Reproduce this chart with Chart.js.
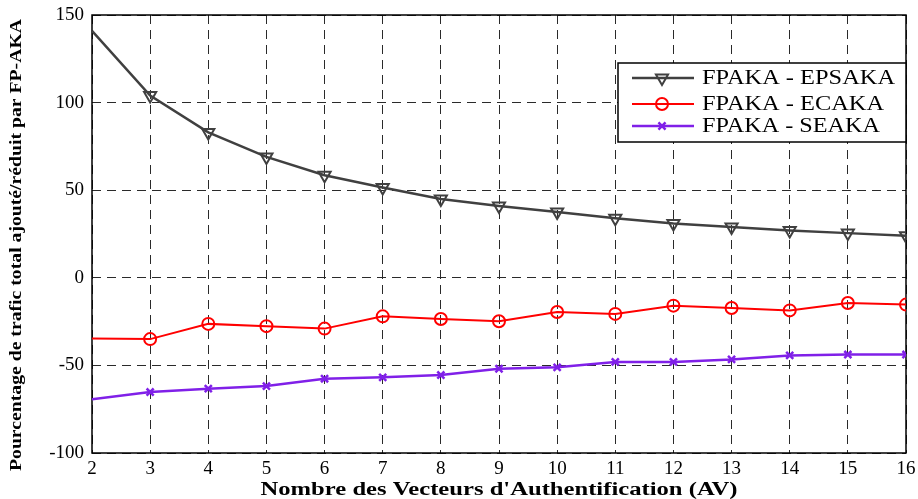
<!DOCTYPE html>
<html>
<head>
<meta charset="utf-8">
<script src="https://cdn.jsdelivr.net/npm/chart.js@4"></script>
<style>
  body { margin: 0; background: #fff; }
  canvas { display: block; }
</style>
</head>
<body>
<canvas id="chart" width="918" height="499"></canvas>
<script>
// Values
const avCounts = [2, 3, 4, 5, 6, 7, 8, 9, 10, 11, 12, 13, 14, 15, 16];
const yTicks = [-100, -50, 0, 50, 100, 150];
const epsaka = [141, 104, 83, 69, 58.5, 51.5, 45, 41, 37.5, 34, 31, 29, 27, 25.5, 24];
const ecaka = [-34.7, -35, -26.3, -27.6, -29, -22, -23.5, -24.8, -19.5, -20.6, -15.9, -17.2, -18.6, -14.4, -15.3];
const seaka = [-69.3, -65.2, -63.3, -61.8, -57.6, -56.8, -55.5, -51.9, -51.1, -48, -48, -46.6, -44.3, -43.8, -43.8];
const seriesLabels = ["FPAKA - EPSAKA", "FPAKA - ECAKA", "FPAKA - SEAKA"];
const xTitle = "Nombre des Vecteurs d'Authentification (AV)";
const yTitle = "Pourcentage de trafic total ajouté/réduit par FP-AKA";

const SERIF = "'Liberation Serif', 'Times New Roman', Tinos, serif";

function toPoints(values) {
    return values.map((v, i) => ({ x: avCounts[i], y: v }));
}

// no marker on the first point, like the original figure
function radii(r) {
    return avCounts.map((_, i) => (i === 0 ? 0 : r));
}

// draw text squeezed/stretched horizontally to a given width
function fitText(ctx, text, x, y, width, align) {
    const natural = ctx.measureText(text).width;
    ctx.save();
    ctx.translate(x, y);
    ctx.scale(width / natural, 1);
    ctx.textAlign = align || "center";
    ctx.fillText(text, 0, 0);
    ctx.restore();
}

const framePlugin = {
    id: "frame",
    beforeDatasetsDraw(chart) {
        const { ctx, chartArea: a } = chart;
        ctx.save();
        ctx.strokeStyle = "#000";
        ctx.lineWidth = 1.5;
        ctx.strokeRect(a.left, a.top, a.right - a.left, a.bottom - a.top);
        ctx.restore();
    },
    afterDraw(chart) {
        const { ctx, chartArea: a } = chart;
        ctx.save();
        ctx.fillStyle = "#000";
        ctx.font = "bold 18px " + SERIF;
        ctx.textBaseline = "alphabetic";
        fitText(ctx, xTitle, (a.left + a.right) / 2, 495, 477);

        ctx.save();
        ctx.translate(21, 245);
        ctx.rotate(-Math.PI / 2);
        ctx.font = "bold 16px " + SERIF;
        fitText(ctx, yTitle, 0, 0, 452);
        ctx.restore();
        ctx.restore();
    }
};

const legendPlugin = {
    id: "boxLegend",
    afterDraw(chart) {
        const { ctx } = chart;
        const box = { x: 618, y: 63, w: 288, h: 79 };
        const rows = [78, 104, 126];
        const textWidths = [193, 182, 178];
        ctx.save();
        ctx.fillStyle = "#fff";
        ctx.fillRect(box.x, box.y, box.w, box.h);
        ctx.strokeStyle = "#000";
        ctx.lineWidth = 1.5;
        ctx.strokeRect(box.x, box.y, box.w, box.h);

        chart.data.datasets.forEach((ds, i) => {
            const y = rows[i];
            ctx.strokeStyle = ds.borderColor;
            ctx.lineWidth = ds.borderWidth;
            ctx.beginPath();
            ctx.moveTo(632, y);
            ctx.lineTo(694, y);
            ctx.stroke();
            ctx.lineWidth = ds.pointBorderWidth;
            ctx.fillStyle = "rgba(0,0,0,0)";
            Chart.helpers.drawPoint(ctx, {
                pointStyle: ds.pointStyle,
                rotation: ds.pointRotation || 0,
                radius: ds.legendRadius,
                borderWidth: ds.pointBorderWidth
            }, 662, y);

            ctx.fillStyle = "#000";
            ctx.font = "20px " + SERIF;
            ctx.textBaseline = "middle";
            fitText(ctx, ds.label, 702, y + 1, textWidths[i], "left");
        });
        ctx.restore();
    }
};

new Chart(document.getElementById("chart"), {
    type: "line",
    data: {
        datasets: [
            {
                label: seriesLabels[0],
                data: toPoints(epsaka),
                borderColor: "#404040",
                borderWidth: 2.5,
                pointStyle: "triangle",
                pointRotation: 180,
                pointRadius: radii(7),
                legendRadius: 7,
                pointBorderWidth: 2,
                pointBorderColor: "#404040",
                pointBackgroundColor: "rgba(0,0,0,0)"
            },
            {
                label: seriesLabels[1],
                data: toPoints(ecaka),
                borderColor: "#ff0000",
                borderWidth: 2,
                pointStyle: "circle",
                pointRadius: radii(6),
                legendRadius: 6,
                pointBorderWidth: 2,
                pointBorderColor: "#ff0000",
                pointBackgroundColor: "rgba(0,0,0,0)"
            },
            {
                label: seriesLabels[2],
                data: toPoints(seaka),
                borderColor: "#8020e8",
                borderWidth: 2.5,
                pointStyle: "crossRot",
                pointRadius: radii(5),
                legendRadius: 5,
                pointBorderWidth: 2.5,
                pointBorderColor: "#8020e8",
                pointBackgroundColor: "rgba(0,0,0,0)"
            }
        ]
    },
    options: {
        responsive: false,
        animation: false,
        layout: { padding: { top: 15, right: 12, left: 0, bottom: 0 } },
        plugins: {
            legend: { display: false },
            tooltip: { enabled: false }
        },
        elements: { line: { tension: 0 } },
        scales: {
            x: {
                type: "linear",
                min: avCounts[0],
                max: avCounts[avCounts.length - 1],
                afterFit(scale) {
                    scale.height = 46;
                    scale.paddingLeft = 0;
                    scale.paddingRight = 0;
                },
                ticks: {
                    stepSize: 1,
                    color: "#000",
                    padding: 5,
                    font: { family: SERIF, size: 19 }
                },
                grid: { color: "#2a2a2a", lineWidth: 1, drawTicks: false },
                border: { display: false, dash: [9, 6] }
            },
            y: {
                min: yTicks[0],
                max: yTicks[yTicks.length - 1],
                afterFit(scale) {
                    scale.width = 92;
                    scale.paddingTop = 0;
                    scale.paddingBottom = 0;
                },
                afterBuildTicks(scale) {
                    scale.ticks = yTicks.map(v => ({ value: v }));
                },
                ticks: {
                    color: "#000",
                    padding: 8,
                    font: { family: SERIF, size: 19 }
                },
                grid: { color: "#2a2a2a", lineWidth: 1, drawTicks: false },
                border: { display: false, dash: [9, 6] }
            }
        }
    },
    plugins: [framePlugin, legendPlugin]
});
</script>
</body>
</html>
